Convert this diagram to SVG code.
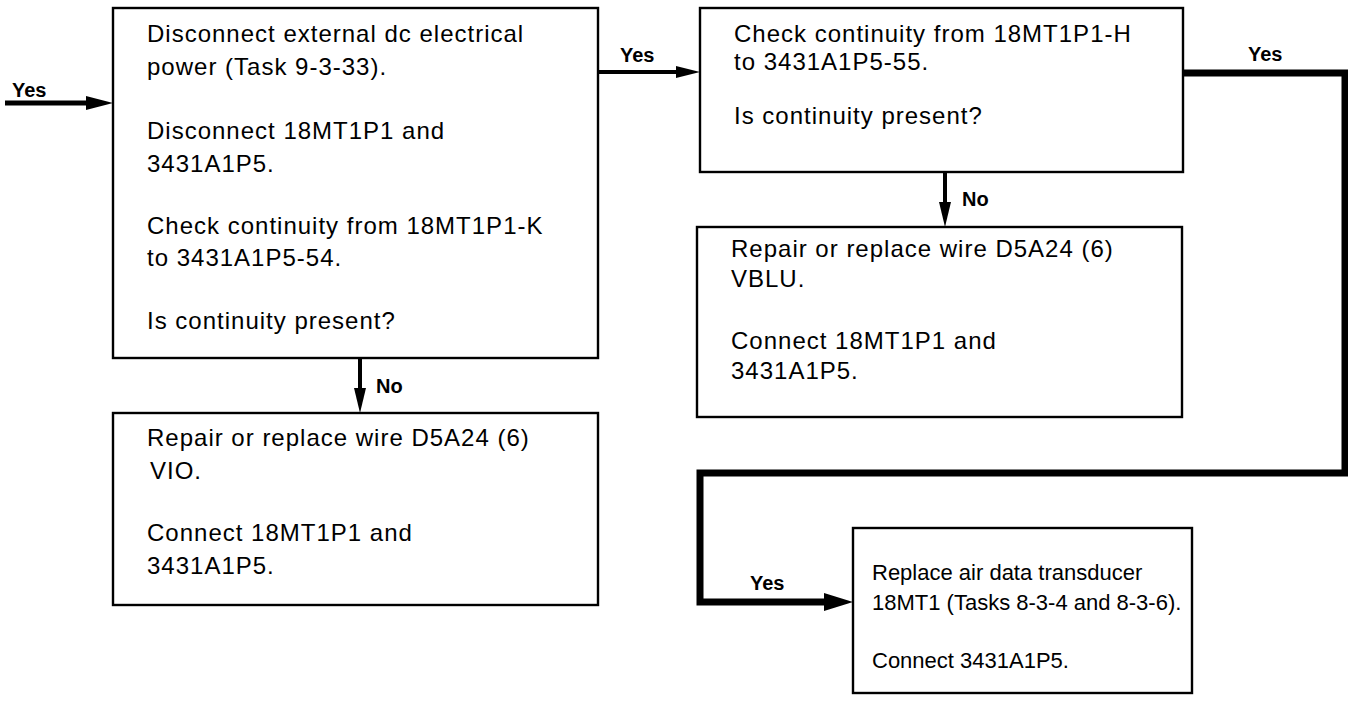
<svg xmlns="http://www.w3.org/2000/svg" width="1348" height="701" viewBox="0 0 1348 701">
<style>
.box{fill:#fff;stroke:#000;stroke-width:2.4}
.t{font-family:"Liberation Sans",Arial,sans-serif;font-size:24px;letter-spacing:1px;fill:#000}
.t5{font-family:"Liberation Sans",Arial,sans-serif;font-size:22px;fill:#000}
.lbl{font-family:"Liberation Sans",Arial,sans-serif;font-size:20px;font-weight:bold;fill:#000}
.ln{fill:none;stroke:#000;stroke-width:4}
.thick{fill:none;stroke:#000;stroke-width:7;stroke-linejoin:miter;stroke-linecap:square}
</style>
<rect width="1348" height="701" fill="#fff"/>
<g id="connectors">
  <line class="ln" x1="5" y1="103" x2="88" y2="103" style="stroke-width:5"/>
  <polygon points="86,96 113,103 86,110"/>
  <text class="lbl" x="12" y="97">Yes</text>
  <line class="ln" x1="598" y1="72" x2="678" y2="72"/>
  <polygon points="676,66 700,72 676,78"/>
  <text class="lbl" x="620" y="62">Yes</text>
  <line class="ln" x1="360" y1="358" x2="360" y2="390"/>
  <polygon points="354,388 360,413 366,388"/>
  <text class="lbl" x="376" y="393">No</text>
  <line class="ln" x1="945" y1="172" x2="945" y2="204"/>
  <polygon points="939,202 945,227 951,202"/>
  <text class="lbl" x="962" y="206">No</text>
  <path class="thick" d="M1183,73 H1345 V473 H700 V602 H826"/>
  <polygon points="824,593 853,602 824,611"/>
  <text class="lbl" x="1248" y="61">Yes</text>
  <text class="lbl" x="750" y="590">Yes</text>
</g>
<g id="n1">
  <rect class="box" x="113" y="8" width="485" height="350"/>
  <text class="t" x="147" y="42">Disconnect external dc electrical</text>
  <text class="t" x="147" y="75">power (Task 9-3-33).</text>
  <text class="t" x="147" y="139">Disconnect 18MT1P1 and</text>
  <text class="t" x="147" y="172">3431A1P5.</text>
  <text class="t" x="147" y="234">Check continuity from 18MT1P1-K</text>
  <text class="t" x="147" y="266">to 3431A1P5-54.</text>
  <text class="t" x="147" y="329">Is continuity present?</text>
</g>
<g id="n2">
  <rect class="box" x="113" y="413" width="485" height="192"/>
  <text class="t" x="147" y="446">Repair or replace wire D5A24 (6)</text>
  <text class="t" x="150" y="479">VIO.</text>
  <text class="t" x="147" y="541">Connect 18MT1P1 and</text>
  <text class="t" x="147" y="574">3431A1P5.</text>
</g>
<g id="n3">
  <rect class="box" x="700" y="8" width="483" height="164"/>
  <text class="t" x="734" y="42">Check continuity from 18MT1P1-H</text>
  <text class="t" x="734" y="70">to 3431A1P5-55.</text>
  <text class="t" x="734" y="124">Is continuity present?</text>
</g>
<g id="n4">
  <rect class="box" x="697" y="227" width="485" height="190"/>
  <text class="t" x="731" y="257">Repair or replace wire D5A24 (6)</text>
  <text class="t" x="731" y="287">VBLU.</text>
  <text class="t" x="731" y="349">Connect 18MT1P1 and</text>
  <text class="t" x="731" y="379">3431A1P5.</text>
</g>
<g id="n5">
  <rect class="box" x="853" y="528" width="339" height="165"/>
  <text class="t5" x="872" y="580">Replace air data transducer</text>
  <text class="t5" x="872" y="610">18MT1 (Tasks 8-3-4 and 8-3-6).</text>
  <text class="t5" x="872" y="668">Connect 3431A1P5.</text>
</g>
</svg>
